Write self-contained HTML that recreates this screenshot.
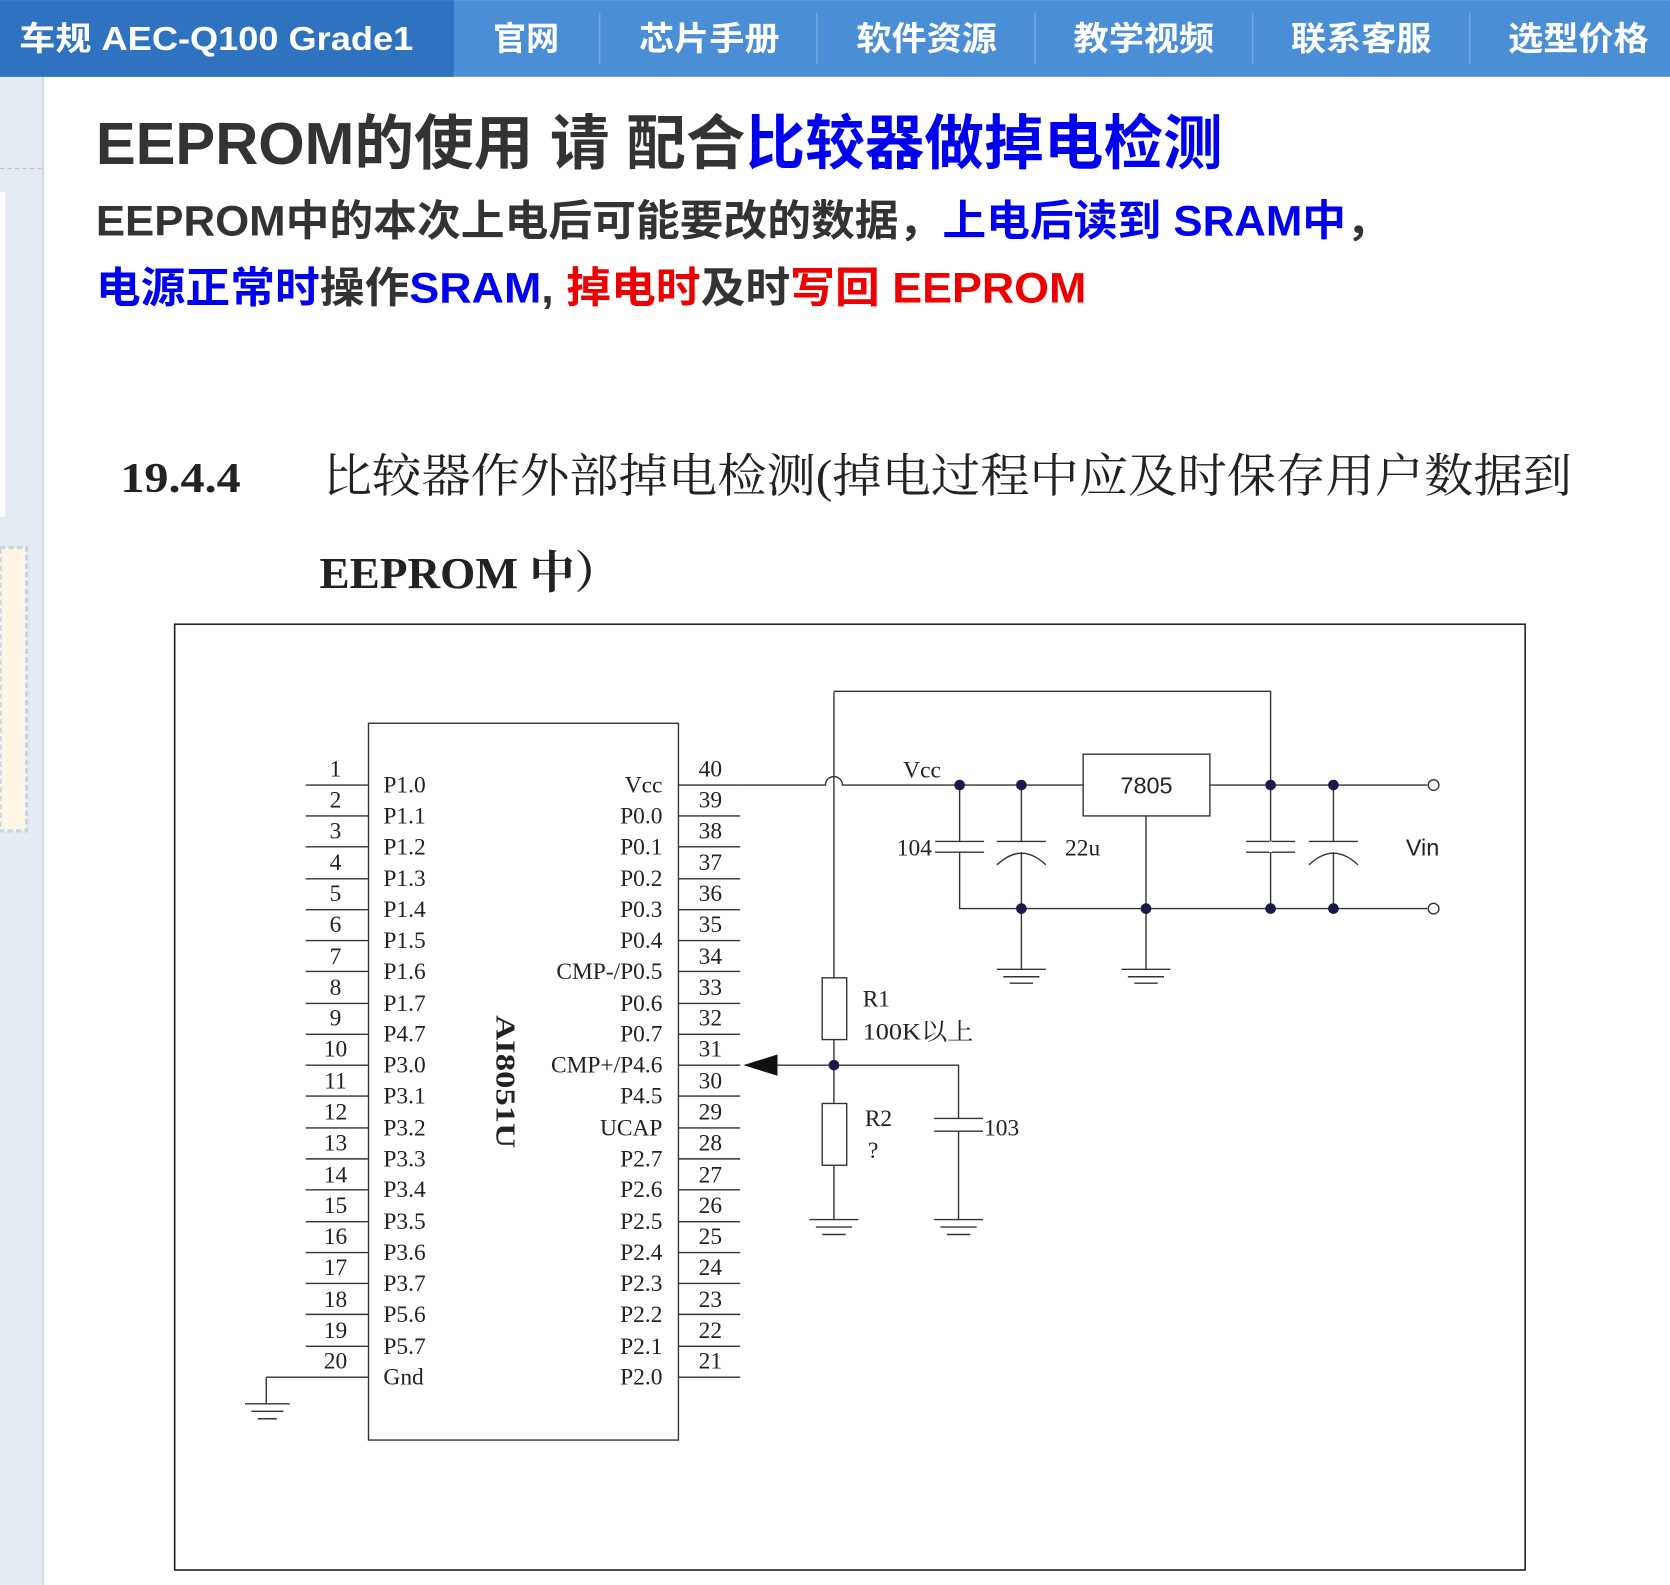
<!DOCTYPE html>
<html><head><meta charset="utf-8"><style>
html,body{margin:0;padding:0;background:#fff;}
svg{display:block;}
.nav{font-family:"Liberation Sans","Noto Sans CJK SC",sans-serif;font-weight:bold;fill:#fff;font-size:31px;}
.h{font-family:"Liberation Sans","Noto Sans CJK SC",sans-serif;font-weight:bold;}
.s{font-family:"Liberation Serif","Noto Serif CJK SC",serif;fill:#222;}
.p{font-family:"Liberation Serif","Noto Serif CJK SC",serif;fill:#222;font-size:22px;}
</style></head><body>
<svg width="1670" height="1585" viewBox="0 0 1568 1488" xmlns="http://www.w3.org/2000/svg">
<rect width="1568" height="1488" fill="#fff"/>
<rect x="0" y="72" width="40" height="1416" fill="#e4ebf2"/>
<line x1="40.5" y1="72" x2="40.5" y2="1488" stroke="#c8d6e4" stroke-width="1.5"/>
<line x1="0" y1="158" x2="40" y2="158" stroke="#bbb" stroke-dasharray="4,3"/>
<rect x="0" y="180" width="5" height="305" fill="#fff"/>
<rect x="0" y="514" width="25" height="266" fill="#fcf5e6" stroke="#c8d6e4" stroke-width="3" stroke-dasharray="5,3"/>
<rect x="0" y="0" width="1568" height="72" fill="#4a8ed6"/>
<rect x="0" y="0" width="426" height="72" fill="#2f73c0"/>
<g stroke="#6fa6e0" stroke-width="1.5">
<line x1="563" y1="12" x2="563" y2="60"/><line x1="767" y1="12" x2="767" y2="60"/><line x1="972" y1="12" x2="972" y2="60"/><line x1="1176" y1="12" x2="1176" y2="60"/><line x1="1380" y1="12" x2="1380" y2="60"/>
</g>
<text class="nav" x="18" y="47" textLength="370" lengthAdjust="spacingAndGlyphs">车规 AEC-Q100 Grade1</text>
<text class="nav" x="463" y="47">官网</text>
<text class="nav" x="600" y="47" textLength="132" lengthAdjust="spacingAndGlyphs">芯片手册</text>
<text class="nav" x="804" y="47" textLength="132" lengthAdjust="spacingAndGlyphs">软件资源</text>
<text class="nav" x="1008" y="47" textLength="132" lengthAdjust="spacingAndGlyphs">教学视频</text>
<text class="nav" x="1212" y="47" textLength="132" lengthAdjust="spacingAndGlyphs">联系客服</text>
<text class="nav" x="1416" y="47" textLength="132" lengthAdjust="spacingAndGlyphs">选型价格</text>
<text class="h" x="90" y="154" font-size="56" fill="#333" textLength="1058" lengthAdjust="spacingAndGlyphs">EEPROM的使用 请 配合<tspan fill="#0000ee">比较器做掉电检测</tspan></text>
<text class="h" x="90" y="221" font-size="40" fill="#333" textLength="1215" lengthAdjust="spacingAndGlyphs">EEPROM中的本次上电后可能要改的数据，<tspan fill="#0000ee">上电后读到 SRAM中</tspan>，</text>
<text class="h" x="90" y="284" font-size="40" fill="#0000ee" textLength="930" lengthAdjust="spacingAndGlyphs">电源正常时<tspan fill="#333">操作</tspan>SRAM<tspan fill="#333">, </tspan><tspan fill="#ee0000">掉电时</tspan><tspan fill="#333">及时</tspan><tspan fill="#ee0000">写回 EEPROM</tspan></text>
<text class="s" x="113" y="462" font-size="40" font-weight="bold" textLength="113" lengthAdjust="spacingAndGlyphs">19.4.4</text>
<text class="s" x="303" y="462" font-size="44" textLength="1173" lengthAdjust="spacingAndGlyphs">比较器作外部掉电检测(掉电过程中应及时保存用户数据到</text>
<text class="s" x="300" y="552" font-size="42" font-weight="bold" textLength="282" lengthAdjust="spacingAndGlyphs">EEPROM 中）</text>
<rect x="164" y="586" width="1268" height="888" fill="none" stroke="#222" stroke-width="1.5"/>
<rect x="346" y="679" width="291" height="673" fill="none" stroke="#333" stroke-width="1.3"/>
<g class="p">
<text x="360" y="744">P1.0</text><text x="360" y="773">P1.1</text><text x="360" y="802">P1.2</text><text x="360" y="832">P1.3</text><text x="360" y="861">P1.4</text><text x="360" y="890">P1.5</text><text x="360" y="919">P1.6</text><text x="360" y="949">P1.7</text><text x="360" y="978">P4.7</text><text x="360" y="1007">P3.0</text><text x="360" y="1036">P3.1</text><text x="360" y="1066">P3.2</text><text x="360" y="1095">P3.3</text><text x="360" y="1124">P3.4</text><text x="360" y="1154">P3.5</text><text x="360" y="1183">P3.6</text><text x="360" y="1212">P3.7</text><text x="360" y="1241">P5.6</text><text x="360" y="1271">P5.7</text><text x="360" y="1300">Gnd</text>
</g>
<g class="p" text-anchor="end">
<text x="622" y="744">Vcc</text><text x="622" y="773">P0.0</text><text x="622" y="802">P0.1</text><text x="622" y="832">P0.2</text><text x="622" y="861">P0.3</text><text x="622" y="890">P0.4</text><text x="622" y="919">CMP-/P0.5</text><text x="622" y="949">P0.6</text><text x="622" y="978">P0.7</text><text x="622" y="1007">CMP+/P4.6</text><text x="622" y="1036">P4.5</text><text x="622" y="1066">UCAP</text><text x="622" y="1095">P2.7</text><text x="622" y="1124">P2.6</text><text x="622" y="1154">P2.5</text><text x="622" y="1183">P2.4</text><text x="622" y="1212">P2.3</text><text x="622" y="1241">P2.2</text><text x="622" y="1271">P2.1</text><text x="622" y="1300">P2.0</text>
</g>
<g class="p" text-anchor="middle">
<text x="315" y="729">1</text><text x="315" y="758">2</text><text x="315" y="787">3</text><text x="315" y="817">4</text><text x="315" y="846">5</text><text x="315" y="875">6</text><text x="315" y="905">7</text><text x="315" y="934">8</text><text x="315" y="963">9</text><text x="315" y="992">10</text><text x="315" y="1022">11</text><text x="315" y="1051">12</text><text x="315" y="1080">13</text><text x="315" y="1110">14</text><text x="315" y="1139">15</text><text x="315" y="1168">16</text><text x="315" y="1197">17</text><text x="315" y="1227">18</text><text x="315" y="1256">19</text><text x="315" y="1285">20</text>
<text x="667" y="729">40</text><text x="667" y="758">39</text><text x="667" y="787">38</text><text x="667" y="817">37</text><text x="667" y="846">36</text><text x="667" y="875">35</text><text x="667" y="905">34</text><text x="667" y="934">33</text><text x="667" y="963">32</text><text x="667" y="992">31</text><text x="667" y="1022">30</text><text x="667" y="1051">29</text><text x="667" y="1080">28</text><text x="667" y="1110">27</text><text x="667" y="1139">26</text><text x="667" y="1168">25</text><text x="667" y="1197">24</text><text x="667" y="1227">23</text><text x="667" y="1256">22</text><text x="667" y="1285">21</text>
</g>
<g stroke="#333" stroke-width="1.3">
<path d="M287 737H346M287 766H346M287 795H346M287 825H346M287 854H346M287 883H346M287 912H346M287 942H346M287 971H346M287 1000H346M287 1029H346M287 1059H346M287 1088H346M287 1117H346M287 1147H346M287 1176H346M287 1205H346M287 1234H346M287 1264H346M250 1293H346"/>
<path d="M637 737H695M637 766H695M637 795H695M637 825H695M637 854H695M637 883H695M637 912H695M637 942H695M637 971H695M637 1000H695M637 1029H695M637 1059H695M637 1088H695M637 1117H695M637 1147H695M637 1176H695M637 1205H695M637 1234H695M637 1264H695M637 1293H695"/>
<path d="M250 1293V1318M230 1318H272M236 1325H266M242 1332H260" fill="none"/>
</g>
<text class="s" font-size="26" font-weight="bold" transform="translate(466,953) rotate(90)" textLength="125" lengthAdjust="spacingAndGlyphs">AI8051U</text>
<g stroke="#333" stroke-width="1.3" fill="none">
<path d="M695 737H775A8 8 0 0 1 791 737H1017"/>
<path d="M783 649V1145M783 649H1193V853"/>
<rect x="1017" y="708" width="119" height="58"/>
<path d="M1136 737H1340"/>
<path d="M901 737V790M878 790H924M878 800H924M901 800V853H1340"/>
<path d="M959 737V790M936 790H982M936 812Q959 790 982 812M959 800V910M936 910H982M942 917H976M948 923H970"/>
<path d="M1076 766V910M1053 910H1099M1059 917H1093M1065 923H1087"/>
<path d="M1170 790H1216M1170 800H1216"/>
<path d="M1252 737V790M1229 790H1275M1229 812Q1252 790 1275 812M1252 800V853"/>
<path d="M1193 790V800" stroke="#fff" stroke-width="3"/>
<rect x="772" y="918" width="23" height="58" fill="#fff"/>
<rect x="772" y="1036" width="23" height="58" fill="#fff"/>
<path d="M760 1145H806M766 1152H800M772 1159H794"/>
<path d="M730 1000H900V1050M877 1050H923M877 1062H923M900 1062V1145M877 1145H923M883 1152H917M889 1159H911"/>
<circle cx="1346" cy="737" r="5" fill="#fff"/>
<circle cx="1346" cy="853" r="5" fill="#fff"/>
</g>
<path d="M698 1000L730 990V1010Z" fill="#111"/>
<g fill="#1a1a4a">
<circle cx="901" cy="737" r="5"/><circle cx="959" cy="737" r="5"/><circle cx="1193" cy="737" r="5"/><circle cx="1252" cy="737" r="5"/>
<circle cx="959" cy="853" r="5"/><circle cx="1076" cy="853" r="5"/><circle cx="1193" cy="853" r="5"/><circle cx="1252" cy="853" r="5"/>
<circle cx="783" cy="1000" r="5"/>
</g>
<g class="p">
<text x="848" y="730">Vcc</text>
<text x="1052" y="745" font-family="Liberation Sans,sans-serif">7805</text>
<text x="842" y="803">104</text>
<text x="1000" y="803">22u</text>
<text x="1320" y="803" font-family="Liberation Sans,sans-serif">Vin</text>
<text x="810" y="945">R1</text>
<text x="810" y="976" textLength="104" lengthAdjust="spacingAndGlyphs">100K以上</text>
<text x="812" y="1057">R2</text>
<text x="815" y="1087">?</text>
<text x="924" y="1066">103</text>
</g>
</svg>
</body></html>
